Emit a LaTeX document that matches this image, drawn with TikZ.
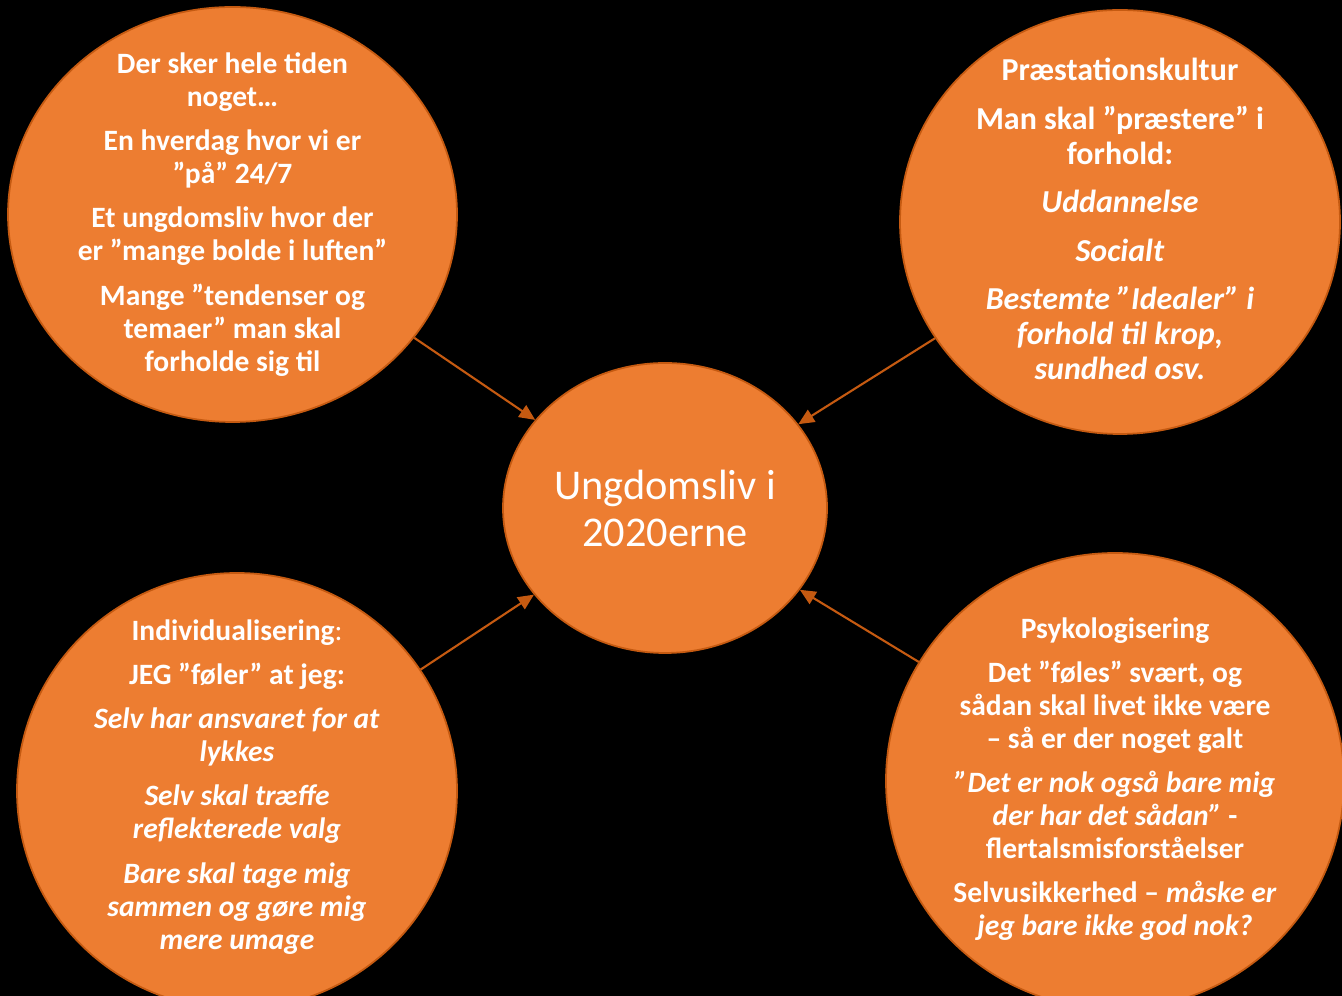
\documentclass[tikz,border=0pt]{standalone}
\usepackage{fontspec}
\setmainfont{Carlito}
\usetikzlibrary{shapes.geometric,arrows.meta}

\definecolor{bubblefill}{HTML}{ED7D31}
\definecolor{bubbleline}{HTML}{C55A11}

\tikzset{
  bubble/.style={ellipse, draw=bubbleline, line width=1pt, fill=bubblefill, inner sep=0pt},
  bubbletext/.style={text=white, align=center, font=\bfseries\fontsize{16.8}{18.8}\selectfont},
  link/.style={draw=bubbleline, line width=1.2pt, -{Triangle[length=9pt,width=8pt]}}
}

\begin{document}
\begin{tikzpicture}[x=1cm,y=1cm]

% Background
\useasboundingbox (0,0) rectangle (26.84,19.92);
\fill[black] (0,0) rectangle (26.84,19.92);
\clip (0,0) rectangle (26.84,19.92);

% ---- Bubbles ----
\node[bubble, minimum width=8.98cm, minimum height=8.30cm] (hverdag) at (4.65,15.63) {};
\node[bubble, minimum width=8.80cm, minimum height=8.48cm] (praestation) at (22.40,15.48) {};
\node[bubble, minimum width=8.80cm, minimum height=8.72cm] (individ) at (4.74,4.10) {};
\node[bubble, minimum width=9.16cm, minimum height=9.12cm] (psyko) at (22.30,4.30) {};

% Center
\node[bubble, minimum width=6.48cm, minimum height=5.80cm, text=white, align=center,
  font=\fontsize{24.1}{26.7}\selectfont] (ungdom) at (13.30,9.76) {Ungdomsliv i\\2020erne};

% ---- Arrows ----
\draw[link] (hverdag) -- (ungdom);
\draw[link] (praestation) -- (ungdom);
\draw[link] (individ) -- (ungdom);
\draw[link] (psyko) -- (ungdom);

% ---- Texts ----
\node[bubbletext] (hverdagtxt) at (hverdag)
  {Der sker hele tiden\\noget…\\[6.3pt]
   En hverdag hvor vi er\\”på” 24/7\\[6.3pt]
   Et ungdomsliv hvor der\\er ”mange bolde i luften”\\[6.3pt]
   Mange ”tendenser og\\temaer” man skal\\forholde sig til};

\node[bubbletext, font=\bfseries\fontsize{18.2}{19.9}\selectfont, yshift=0.06cm] (praestationtxt) at (praestation)
  {Præstationskultur\\[7.7pt]
   Man skal ”præstere” i\\forhold:\\[7.7pt]
   \textit{Uddannelse}\\[7.7pt]
   \textit{Socialt}\\[7.7pt]
   \textit{Bestemte ”Idealer” i}\\\textit{forhold til krop,}\\\textit{sundhed osv.}};

\node[bubbletext, yshift=0.08cm] (individtxt) at (individ)
  {Individualisering{\mdseries :}\\[6.3pt]
   JEG ”føler” at jeg:\\[6.3pt]
   \textit{Selv har ansvaret for at}\\\textit{lykkes}\\[6.3pt]
   \textit{Selv skal træffe}\\\textit{reflekterede valg}\\[6.3pt]
   \textit{Bare skal tage mig}\\\textit{sammen og gøre mig}\\\textit{mere umage}};

\node[bubbletext, yshift=0.04cm] (psykotxt) at (psyko)
  {Psykologisering\\[6.3pt]
   Det ”føles” svært, og\\sådan skal livet ikke være\\– så er der noget galt\\[6.3pt]
   \textit{”Det er nok også bare mig}\\\textit{der har det sådan”} -\\flertalsmisforståelser\\[6.3pt]
   Selvusikkerhed – \textit{måske er}\\\textit{jeg bare ikke god nok?}};

\end{tikzpicture}
\end{document}
